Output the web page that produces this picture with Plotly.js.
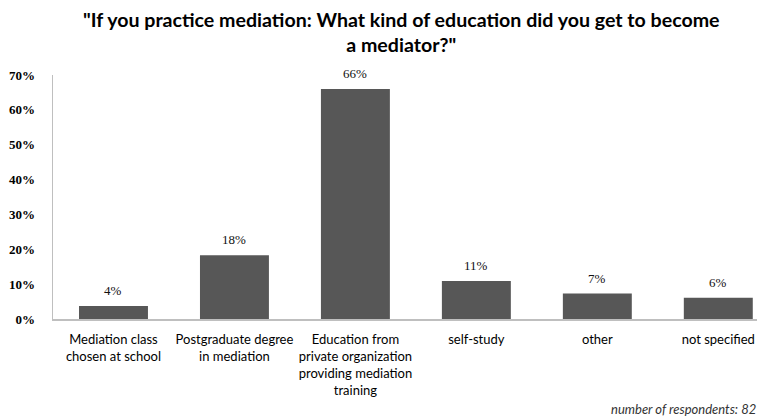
<!DOCTYPE html>
<html>
<head>
<meta charset="utf-8">
<script src="https://cdn.plot.ly/plotly-3.0.1.min.js"></script>
<style>
  html, body { margin: 0; padding: 0; background: #ffffff; }
  #chart { width: 757px; height: 416px; }
</style>
</head>
<body>
<div id="chart"></div>
<script>
const categories = [
  "Mediation class<br>chosen at school",
  "Postgraduate degree<br>in mediation",
  "Education from<br>private organization<br>providing mediation<br>training",
  "self-study",
  "other",
  "not specified"
];
const shares = [0.037, 0.183, 0.66, 0.109, 0.073, 0.061];
const valueLabels = ["4%", "18%", "66%", "11%", "7%", "6%"];
const yTickValues = [0, 0.1, 0.2, 0.3, 0.4, 0.5, 0.6, 0.7];
const yTickLabels = ["0%", "10%", "20%", "30%", "40%", "50%", "60%", "70%"];
const titleText = '"If you practice mediation: What kind of education did you get to become<br>a mediator?"';
const footnote = "number of respondents: 82";

const sansFont = 'Lato, "Noto Sans", sans-serif';
const serifFont = '"Liberation Serif", "Times New Roman", serif';

const trace = {
  type: 'bar',
  x: categories,
  y: shares,
  width: 0.57,
  marker: { color: '#575757', line: { width: 0 } },
  hoverinfo: 'skip'
};

const annotations = categories.map((c, i) => ({
  x: c, y: shares[i], xref: 'x', yref: 'y',
  text: valueLabels[i], showarrow: false,
  yanchor: 'bottom', yshift: 6,
  font: { family: serifFont, size: 13, color: '#111111' }
}));
annotations.push({
  xref: 'paper', yref: 'paper', x: 0.495, y: 1, xanchor: 'center', yanchor: 'top',
  yshift: 69,
  text: '<b>' + titleText + '</b>', showarrow: false, align: 'center',
  font: { family: sansFont, size: 19.6, color: '#000000' }
});
annotations.push({
  xref: 'paper', yref: 'paper', x: 1, y: 0, xanchor: 'right', yanchor: 'top',
  yshift: -80, xshift: 1,
  text: '<i>' + footnote + '</i>', showarrow: false,
  font: { family: sansFont, size: 13, color: '#333333' }
});

const layout = {
  width: 757, height: 416,
  margin: { l: 53, r: 0, t: 75, b: 97, pad: 0 },
  paper_bgcolor: '#ffffff', plot_bgcolor: '#ffffff',
  showlegend: false,
  xaxis: {
    type: 'category',
    range: [-0.5, 5.32],
    showgrid: false, zeroline: false,
    showline: true, linecolor: '#bfbfbf', linewidth: 1.5,
    ticks: '', ticklabelstandoff: 8, tickangle: 0,
    tickfont: { family: sansFont, size: 13, color: '#000000' },
    fixedrange: true
  },
  yaxis: {
    range: [0, 0.7],
    tickvals: yTickValues, ticktext: yTickLabels,
    showgrid: false, zeroline: false,
    showline: true, linecolor: '#bfbfbf', linewidth: 1.5,
    ticks: '', ticklabelstandoff: 14,
    tickfont: { family: serifFont, size: 13, color: '#000000', weight: 'bold' },
    fixedrange: true
  },
  annotations: annotations
};

Plotly.newPlot('chart', [trace], layout, { displayModeBar: false, staticPlot: true });
</script>
</body>
</html>
